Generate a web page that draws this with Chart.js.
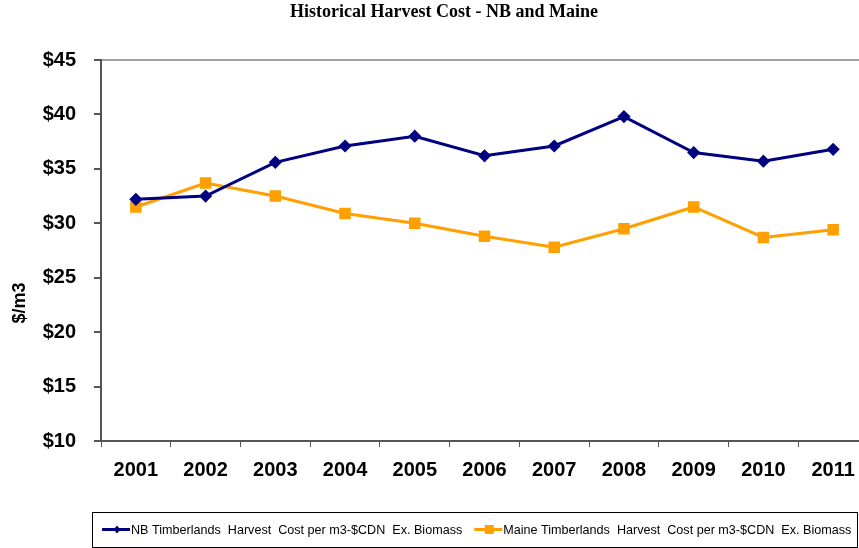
<!DOCTYPE html>
<html>
<head>
<meta charset="utf-8">
<script src="https://cdn.jsdelivr.net/npm/chart.js@4/dist/chart.umd.min.js"></script>
<style>
  html, body { margin: 0; padding: 0; background: #fff; overflow: hidden; }
  #wrap { width: 888px; height: 548px; }
</style>
</head>
<body>
<div id="wrap"><canvas id="harvestChart" width="888" height="548"></canvas></div>
<script>
// values ($ per m3)
var years = ['2001', '2002', '2003', '2004', '2005', '2006', '2007', '2008', '2009', '2010', '2011'];
var nbCost = [32.2, 32.5, 35.6, 37.1, 38.0, 36.2, 37.1, 39.8, 36.5, 35.7, 36.8];
var maineCost = [31.5, 33.7, 32.5, 30.9, 30.0, 28.8, 27.8, 29.5, 31.5, 28.7, 29.4];
var yTicks = [10, 15, 20, 25, 30, 35, 40, 45];
var yTitle = '$/m3';

var NAVY = '#000080';
var ORANGE = '#FF9F00';
var SANS = '"Liberation Sans", Arial, sans-serif';

// y axis title sits below the middle in the original, so draw it by hand
var sideTitle = {
    id: 'sideTitle',
    afterDraw: function (chart) {
        var ctx = chart.ctx;
        ctx.save();
        ctx.translate(20, 303);
        ctx.rotate(-Math.PI / 2);
        ctx.font = 'bold 18px ' + SANS;
        ctx.fillStyle = '#000';
        ctx.textAlign = 'center';
        ctx.textBaseline = 'middle';
        ctx.fillText(yTitle, 0, 0);
        ctx.restore();
    }
};

// legend drawn in a box under the axis, like the original
var boxLegend = {
    id: 'boxLegend',
    afterDraw: function (chart) {
        var ctx = chart.ctx;
        var sets = chart.data.datasets;
        var top = 512, bottom = 547, left = 92, right = 857;
        ctx.save();
        ctx.strokeStyle = '#000';
        ctx.lineWidth = 1;
        ctx.strokeRect(left + 0.5, top + 0.5, right - left, bottom - top);
        ctx.font = '12.6px ' + SANS;
        ctx.textBaseline = 'middle';
        var cy = (top + bottom) / 2;
        var x = left + 10;
        sets.forEach(function (ds) {
            ctx.strokeStyle = ds.borderColor;
            ctx.fillStyle = ds.borderColor;
            ctx.lineWidth = 3;
            ctx.beginPath();
            ctx.moveTo(x, cy);
            ctx.lineTo(x + 28, cy);
            ctx.stroke();
            var mx = x + 15;
            if (ds.pointStyle === 'rectRot') {
                ctx.beginPath();
                ctx.moveTo(mx, cy - 4);
                ctx.lineTo(mx + 3.5, cy);
                ctx.lineTo(mx, cy + 4);
                ctx.lineTo(mx - 3.5, cy);
                ctx.closePath();
                ctx.fill();
            } else {
                ctx.fillRect(mx - 4.5, cy - 4.5, 9, 9);
            }
            ctx.fillStyle = '#000';
            ctx.fillText(ds.label, x + 29, cy + 1);
            x += 29 + ctx.measureText(ds.label).width + 12;
        });
        ctx.restore();
    }
};

var ctx = document.getElementById('harvestChart').getContext('2d');
new Chart(ctx, {
    type: 'line',
    data: {
        labels: years,
        datasets: [{
            label: 'NB Timberlands  Harvest  Cost per m3-$CDN  Ex. Biomass',
            data: nbCost,
            borderColor: NAVY,
            backgroundColor: NAVY,
            borderWidth: 3,
            pointStyle: 'rectRot',
            pointRadius: 4.5,
            pointHoverRadius: 4.5,
            tension: 0
        }, {
            label: 'Maine Timberlands  Harvest  Cost per m3-$CDN  Ex. Biomass',
            data: maineCost,
            borderColor: ORANGE,
            backgroundColor: ORANGE,
            borderWidth: 3,
            pointStyle: 'rect',
            pointRadius: 6,
            pointHoverRadius: 6,
            tension: 0
        }]
    },
    options: {
        responsive: false,
        animation: false,
        layout: {
            padding: { left: 20, right: 20, top: 0, bottom: 67 }
        },
        plugins: {
            legend: { display: false },
            tooltip: { enabled: false },
            title: {
                display: true,
                text: 'Historical Harvest Cost - NB and Maine',
                color: '#000',
                font: { family: '"Liberation Serif", "Times New Roman", serif', size: 18, weight: 'bold' },
                padding: { top: 2, bottom: 36.4 }
            }
        },
        scales: {
            x: {
                offset: true,
                afterFit: function (scale) { scale.height = 40; },
                grid: {
                    offset: true,
                    drawOnChartArea: false,
                    tickLength: 6,
                    tickColor: '#555'
                },
                border: { display: true, color: '#555', width: 2 },
                ticks: {
                    color: '#000',
                    padding: 11,
                    maxRotation: 0,
                    font: { family: SANS, size: 20, weight: 'bold' }
                }
            },
            y: {
                min: 10,
                max: 45,
                afterFit: function (scale) { scale.width = 81; },
                afterBuildTicks: function (scale) {
                    scale.ticks = yTicks.map(function (v) { return { value: v }; });
                },
                grid: {
                    color: function (c) { return c.tick && c.tick.value === 45 ? '#a0a0a0' : 'rgba(0,0,0,0)'; },
                    lineWidth: 2,
                    tickLength: 7,
                    tickColor: '#555'
                },
                border: { display: true, color: '#555', width: 2 },
                ticks: {
                    color: '#000',
                    padding: 18,
                    callback: function (v) { return '$' + v; },
                    font: { family: SANS, size: 20, weight: 'bold' }
                }
            }
        }
    },
    plugins: [sideTitle, boxLegend]
});
</script>
</body>
</html>
